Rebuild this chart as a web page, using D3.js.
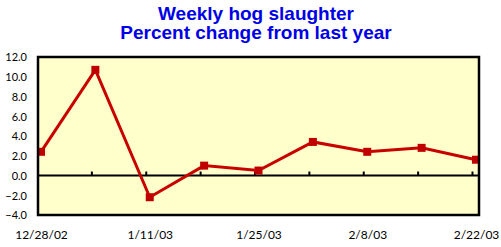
<!DOCTYPE html>
<html>
<head>
<meta charset="utf-8">
<script src="https://cdn.jsdelivr.net/npm/d3@7"></script>
<style>
  body { margin: 0; background: #fff; }
  svg { display: block; }
  .title { font-family: "Liberation Sans", Arial, sans-serif; font-weight: bold; font-size: 19px; fill: #0000e6; }
  .tick text { font-family: "Lato", "DejaVu Sans", sans-serif; font-size: 11px; fill: #000; }
  .xlab .tick text { font-size: 12px; }
</style>
</head>
<body>
<div id="chart"></div>
<script>
// Weeks (every week on the chart, labels only on every other one)
const weeks = ["12/28/02", "1/4/03", "1/11/03", "1/18/03", "1/25/03", "2/1/03", "2/8/03", "2/15/03", "2/22/03"];
const pctChange = [2.4, 10.7, -2.2, 1.0, 0.5, 3.4, 2.4, 2.8, 1.6];
const yTicks = [-4, -2, 0, 2, 4, 6, 8, 10, 12];
const xLabelWeeks = ["12/28/02", "1/11/03", "1/25/03", "2/8/03", "2/22/03"];

const width = 501, height = 247;
const plot = { left: 38, top: 57, right: 479, bottom: 215 };

const svg = d3.select("#chart").append("svg")
  .attr("width", width)
  .attr("height", height);

// Title
svg.append("text").attr("class", "title")
  .attr("x", 256).attr("y", 20).attr("text-anchor", "middle")
  .text("Weekly hog slaughter");
svg.append("text").attr("class", "title")
  .attr("x", 256).attr("y", 39).attr("text-anchor", "middle")
  .text("Percent change from last year");

// Scales
var x = d3.scalePoint().domain(weeks).range([41, 476]);
var y = d3.scaleLinear().domain([-4, 12]).range([plot.bottom, plot.top]);

// Plot background
svg.append("rect")
  .attr("x", plot.left).attr("y", plot.top)
  .attr("width", plot.right - plot.left)
  .attr("height", plot.bottom - plot.top)
  .attr("fill", "#ffffcc");

// Y axis labels
var yAxis = d3.axisLeft(y).tickValues(yTicks).tickFormat(d3.format(".1f")).tickSize(0).tickPadding(11);
svg.append("g")
  .attr("transform", "translate(" + plot.left + ",0)")
  .call(yAxis)
  .call(g => g.select(".domain").remove())
  .selectAll("text").attr("dy", "0.35em");

// X axis labels along the bottom
var xAxis = d3.axisBottom(x).tickValues(xLabelWeeks).tickSize(0).tickPadding(15);
svg.append("g")
  .attr("class", "xlab")
  .attr("transform", "translate(0," + plot.bottom + ")")
  .call(xAxis)
  .call(g => g.select(".domain").remove());

// Zero line with small tick marks
svg.append("line")
  .attr("x1", plot.left).attr("x2", plot.right)
  .attr("y1", y(0)).attr("y2", y(0))
  .attr("stroke", "#000").attr("stroke-width", 2);

svg.append("g").selectAll("line")
  .data(weeks.slice(1))
  .enter().append("line")
  .attr("x1", d => x(d) - 3.5).attr("x2", d => x(d) - 3.5)
  .attr("y1", y(0) - 4).attr("y2", y(0))
  .attr("stroke", "#000").attr("stroke-width", 2);

// Series line
var line = d3.line()
  .x((d, i) => x(weeks[i]))
  .y(d => y(d));

svg.append("path")
  .datum(pctChange)
  .attr("d", line)
  .attr("fill", "none")
  .attr("stroke", "#c80000")
  .attr("stroke-width", 3);

// Square markers
svg.append("g").selectAll("rect")
  .data(pctChange)
  .enter().append("rect")
  .attr("x", (d, i) => x(weeks[i]) - 4)
  .attr("y", d => y(d) - 4)
  .attr("width", 8).attr("height", 8)
  .attr("fill", "#c00000");

// Plot border
svg.append("rect")
  .attr("x", plot.left).attr("y", plot.top)
  .attr("width", plot.right - plot.left)
  .attr("height", plot.bottom - plot.top)
  .attr("fill", "none")
  .attr("stroke", "#000").attr("stroke-width", 2.5);
</script>
</body>
</html>
